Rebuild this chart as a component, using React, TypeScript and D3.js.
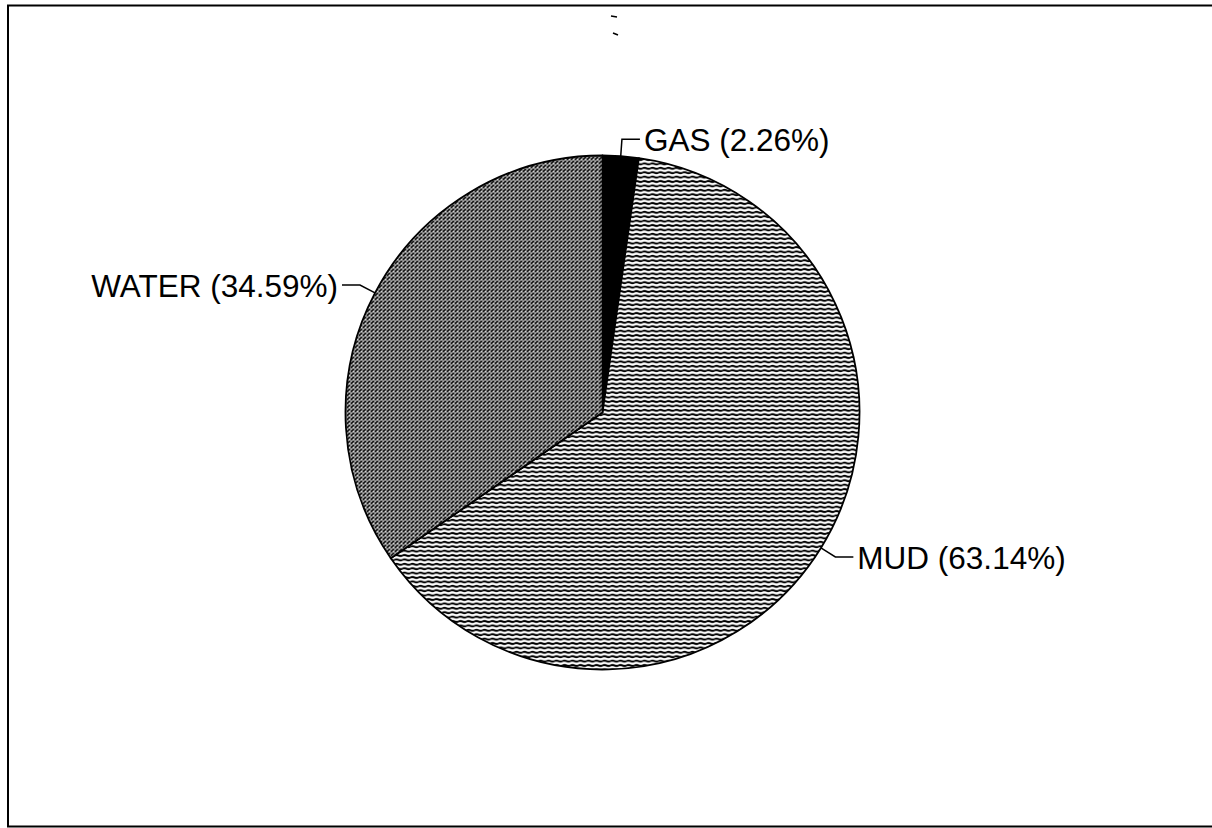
import React, { useEffect, useRef } from 'react';
import * as d3 from 'd3';

// slice order follows the reference: clockwise from 12 o'clock
const categories = ['GAS', 'MUD', 'WATER'];
const shares = [2.26, 63.14, 34.59];
const fills = ['#000', 'url(#mudPattern)', 'url(#waterPattern)'];

interface Slice {
  name: string;
  value: number;
  fill: string;
}

const slices: Slice[] = categories.map((name, i) => ({ name, value: shares[i], fill: fills[i] }));

const App: React.FC = () => {
  const svgRef = useRef<SVGSVGElement>(null);
  const width = 1212;
  const height = 828;

  useEffect(() => {
    if (!svgRef.current) return;
    const svg = d3.select(svgRef.current);
    svg.selectAll('*').remove();

    // Hatch patterns that mimic the scanned fills
    const defs = svg.append('defs');
    const water = defs.append('pattern')
      .attr('id', 'waterPattern')
      .attr('patternUnits', 'userSpaceOnUse')
      .attr('width', 4)
      .attr('height', 4);
    water.append('rect').attr('width', 4).attr('height', 4).attr('fill', '#fff');
    water.append('path')
      .attr('d', 'M0.3,3.4 L3.2,0.6')
      .attr('stroke', '#000')
      .attr('stroke-width', 2)
      .attr('stroke-linecap', 'square');

    const mud = defs.append('pattern')
      .attr('id', 'mudPattern')
      .attr('patternUnits', 'userSpaceOnUse')
      .attr('width', 8)
      .attr('height', 4.4);
    mud.append('rect').attr('width', 8).attr('height', 4.4).attr('fill', '#fff');
    mud.append('path')
      .attr('d', 'M0,2.2 Q2,1.2 4,2.2 T8,2.2')
      .attr('fill', 'none')
      .attr('stroke', '#000')
      .attr('stroke-width', 2);

    // Frame of the scanned page: left, top and bottom edges only
    svg.append('path')
      .attr('d', `M${width},5.5 H8 V826.5 H${width}`)
      .attr('fill', 'none')
      .attr('stroke', '#000')
      .attr('stroke-width', 2);

    // small scan specks near the top
    svg.append('path')
      .attr('d', 'M611,16 L617,17 M613,33 L618,35')
      .attr('stroke', '#000')
      .attr('stroke-width', 1.6);

    const cx = 602.5;
    const cy = 412.5;
    const radius = 257;

    const pie = d3.pie<Slice>()
      .sort(null)
      .value(d => d.value);
    const arcs = pie(slices);

    const arc = d3.arc<d3.PieArcDatum<Slice>>()
      .innerRadius(0)
      .outerRadius(radius);

    const g = svg.append('g').attr('transform', `translate(${cx},${cy})`);

    g.selectAll('path.slice')
      .data(arcs)
      .enter()
      .append('path')
      .attr('class', 'slice')
      .attr('d', arc)
      .attr('fill', d => d.data.fill)
      .attr('stroke', '#000')
      .attr('stroke-width', 1.8)
      .attr('stroke-linejoin', 'round');

    // Leader lines and labels
    const outward = 17;
    const run = 18;
    const gap = 4;

    arcs.forEach(d => {
      const mid = (d.startAngle + d.endAngle) / 2;
      const sx = Math.sin(mid);
      const sy = -Math.cos(mid);
      const right = sx >= 0;
      const p0: [number, number] = [sx * radius, sy * radius];
      const p1: [number, number] = [sx * (radius + outward), sy * (radius + outward)];
      const p2: [number, number] = [p1[0] + (right ? run : -run), p1[1]];

      g.append('path')
        .attr('d', d3.line()([p0, p1, p2]))
        .attr('fill', 'none')
        .attr('stroke', '#000')
        .attr('stroke-width', 1.5);

      g.append('text')
        .attr('x', p2[0] + (right ? gap : -gap))
        .attr('y', p2[1] + 1)
        .attr('dominant-baseline', 'central')
        .attr('text-anchor', right ? 'start' : 'end')
        .style('font-family', '"Liberation Sans", Arial, sans-serif')
        .style('font-size', '31.5px')
        .style('fill', '#000')
        .text(`${d.data.name} (${d.data.value.toFixed(2)}%)`);
    });
  }, []);

  return (
    <svg
      ref={svgRef}
      width={width}
      height={height}
      style={{ position: 'absolute', left: 0, top: 0, background: '#fff' }}
    />
  );
};

export default App;
